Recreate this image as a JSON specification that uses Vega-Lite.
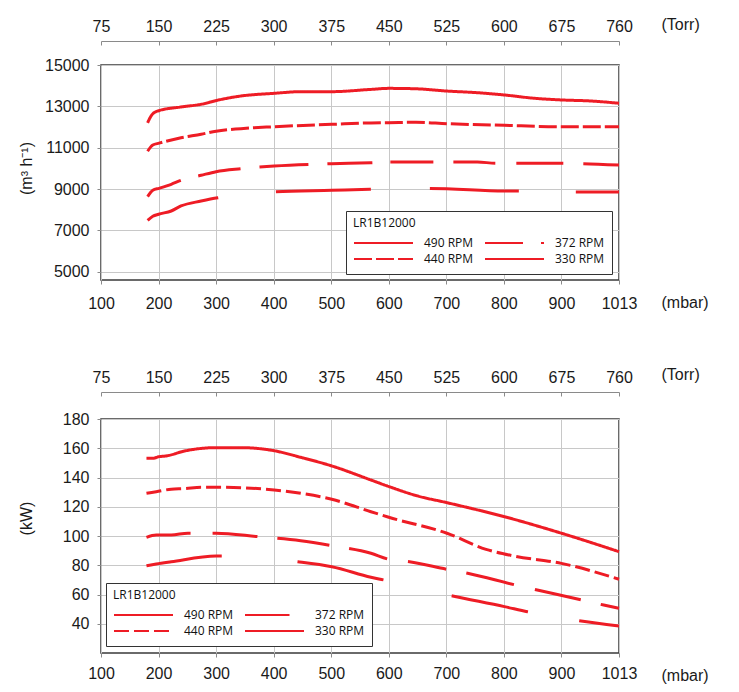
{
  "$schema": "https://vega.github.io/schema/vega-lite/v6.json",
  "padding": {"left": 17, "top": 15, "right": 0, "bottom": 0},
  "background": "white",
  "config": {
    "view": {"stroke": "#3a3a3a", "strokeWidth": 1.5},
    "axis": {
      "labelFont": "Liberation Sans", "labelFontSize": 16, "labelColor": "#1a1a1a",
      "titleFont": "Liberation Sans", "titleFontSize": 16, "titleFontWeight": "normal", "titleColor": "#1a1a1a",
      "gridColor": "#c8c8c8", "gridWidth": 1, "tickColor": "#8a8a8a", "domainColor": "#8a8a8a", "tickSize": 4,
      "labelFlush": false, "labelOverlap": false
    },
    "legend": {
      "titleFont": "Open Sans", "titleFontSize": 12, "titleFontWeight": "normal", "titleColor": "#111",
      "labelFont": "Open Sans", "labelFontSize": 12, "labelColor": "#111",
      "symbolType": "stroke", "symbolSize": 3481, "symbolStrokeWidth": 2, "symbolStrokeColor": "#ee1c25",
      "clipHeight": 16, "labelOffset": 10, "columnPadding": 10, "rowPadding": 0, "padding": 7, "titlePadding": 5,
      "strokeColor": "#333", "fillColor": "white", "cornerRadius": 0
    }
  },
  "datasets": {
    "top": [
      {"mbar": 181, "v": 12200, "s": "490 RPM"}, {"mbar": 185, "v": 12440, "s": "490 RPM"}, {"mbar": 189, "v": 12610, "s": "490 RPM"},
      {"mbar": 198, "v": 12770, "s": "490 RPM"}, {"mbar": 239, "v": 12970, "s": "490 RPM"}, {"mbar": 274, "v": 13100, "s": "490 RPM"},
      {"mbar": 303, "v": 13300, "s": "490 RPM"}, {"mbar": 343, "v": 13500, "s": "490 RPM"}, {"mbar": 401, "v": 13630, "s": "490 RPM"},
      {"mbar": 447, "v": 13710, "s": "490 RPM"}, {"mbar": 501, "v": 13710, "s": "490 RPM"}, {"mbar": 569, "v": 13820, "s": "490 RPM"},
      {"mbar": 600, "v": 13870, "s": "490 RPM"}, {"mbar": 647, "v": 13850, "s": "490 RPM"}, {"mbar": 701, "v": 13740, "s": "490 RPM"},
      {"mbar": 754, "v": 13660, "s": "490 RPM"}, {"mbar": 801, "v": 13550, "s": "490 RPM"}, {"mbar": 853, "v": 13390, "s": "490 RPM"},
      {"mbar": 900, "v": 13310, "s": "490 RPM"}, {"mbar": 957, "v": 13260, "s": "490 RPM"}, {"mbar": 1013, "v": 13150, "s": "490 RPM"},

      {"mbar": 181, "v": 10830, "s": "440 RPM"}, {"mbar": 190, "v": 11130, "s": "440 RPM"}, {"mbar": 201, "v": 11220, "s": "440 RPM"},
      {"mbar": 239, "v": 11480, "s": "440 RPM"}, {"mbar": 274, "v": 11650, "s": "440 RPM"}, {"mbar": 300, "v": 11800, "s": "440 RPM"},
      {"mbar": 343, "v": 11920, "s": "440 RPM"}, {"mbar": 401, "v": 12015, "s": "440 RPM"}, {"mbar": 501, "v": 12130, "s": "440 RPM"},
      {"mbar": 569, "v": 12200, "s": "440 RPM"}, {"mbar": 600, "v": 12210, "s": "440 RPM"}, {"mbar": 647, "v": 12230, "s": "440 RPM"},
      {"mbar": 701, "v": 12160, "s": "440 RPM"}, {"mbar": 801, "v": 12080, "s": "440 RPM"}, {"mbar": 900, "v": 12015, "s": "440 RPM"},
      {"mbar": 1013, "v": 12015, "s": "440 RPM"},

      {"mbar": 181, "v": 8630, "s": "372 RPM"}, {"mbar": 190, "v": 8940, "s": "372 RPM"}, {"mbar": 201, "v": 9035, "s": "372 RPM"},
      {"mbar": 222, "v": 9230, "s": "372 RPM"}, {"mbar": 239, "v": 9420, "s": "372 RPM"}, {"mbar": 274, "v": 9665, "s": "372 RPM"},
      {"mbar": 300, "v": 9840, "s": "372 RPM"}, {"mbar": 343, "v": 9985, "s": "372 RPM"}, {"mbar": 401, "v": 10115, "s": "372 RPM"},
      {"mbar": 501, "v": 10225, "s": "372 RPM"}, {"mbar": 569, "v": 10275, "s": "372 RPM"}, {"mbar": 604, "v": 10310, "s": "372 RPM"},
      {"mbar": 701, "v": 10310, "s": "372 RPM"}, {"mbar": 754, "v": 10310, "s": "372 RPM"}, {"mbar": 786, "v": 10245, "s": "372 RPM"},
      {"mbar": 900, "v": 10245, "s": "372 RPM"}, {"mbar": 1013, "v": 10160, "s": "372 RPM"},

      {"mbar": 181, "v": 7480, "s": "330 RPM"}, {"mbar": 190, "v": 7680, "s": "330 RPM"}, {"mbar": 200, "v": 7780, "s": "330 RPM"},
      {"mbar": 222, "v": 7937, "s": "330 RPM"}, {"mbar": 239, "v": 8180, "s": "330 RPM"}, {"mbar": 274, "v": 8420, "s": "330 RPM"},
      {"mbar": 303, "v": 8580, "s": "330 RPM"}, {"mbar": 350, "v": 8720, "s": "330 RPM"}, {"mbar": 402, "v": 8870, "s": "330 RPM"},
      {"mbar": 501, "v": 8940, "s": "330 RPM"}, {"mbar": 567, "v": 8987, "s": "330 RPM"}, {"mbar": 670, "v": 9030, "s": "330 RPM"},
      {"mbar": 801, "v": 8905, "s": "330 RPM"}, {"mbar": 825, "v": 8900, "s": "330 RPM"}, {"mbar": 925, "v": 8860, "s": "330 RPM"},
      {"mbar": 1013, "v": 8857, "s": "330 RPM"}
    ],
    "bottom": [
      {"mbar": 179, "v": 153.1, "s": "490 RPM"}, {"mbar": 190, "v": 153.1, "s": "490 RPM"}, {"mbar": 200, "v": 154.2, "s": "490 RPM"},
      {"mbar": 213, "v": 154.7, "s": "490 RPM"}, {"mbar": 245, "v": 158.1, "s": "490 RPM"}, {"mbar": 300, "v": 160.4, "s": "490 RPM"},
      {"mbar": 343, "v": 160.4, "s": "490 RPM"}, {"mbar": 401, "v": 158.3, "s": "490 RPM"}, {"mbar": 447, "v": 153.8, "s": "490 RPM"},
      {"mbar": 501, "v": 147.9, "s": "490 RPM"}, {"mbar": 569, "v": 138.3, "s": "490 RPM"}, {"mbar": 601, "v": 133.7, "s": "490 RPM"},
      {"mbar": 650, "v": 127.4, "s": "490 RPM"}, {"mbar": 701, "v": 122.8, "s": "490 RPM"}, {"mbar": 801, "v": 113.2, "s": "490 RPM"},
      {"mbar": 900, "v": 101.9, "s": "490 RPM"}, {"mbar": 1013, "v": 89.3, "s": "490 RPM"},

      {"mbar": 179, "v": 129.2, "s": "440 RPM"}, {"mbar": 196, "v": 130.3, "s": "440 RPM"}, {"mbar": 222, "v": 132.0, "s": "440 RPM"},
      {"mbar": 245, "v": 132.4, "s": "440 RPM"}, {"mbar": 274, "v": 133.3, "s": "440 RPM"}, {"mbar": 300, "v": 133.3, "s": "440 RPM"},
      {"mbar": 343, "v": 133.0, "s": "440 RPM"}, {"mbar": 401, "v": 131.5, "s": "440 RPM"}, {"mbar": 447, "v": 129.2, "s": "440 RPM"},
      {"mbar": 501, "v": 125.1, "s": "440 RPM"}, {"mbar": 569, "v": 116.6, "s": "440 RPM"}, {"mbar": 600, "v": 112.8, "s": "440 RPM"},
      {"mbar": 701, "v": 101.9, "s": "440 RPM"}, {"mbar": 769, "v": 90.9, "s": "440 RPM"}, {"mbar": 818, "v": 86.3, "s": "440 RPM"},
      {"mbar": 900, "v": 81.3, "s": "440 RPM"}, {"mbar": 1013, "v": 70.4, "s": "440 RPM"},

      {"mbar": 179, "v": 99.1, "s": "372 RPM"}, {"mbar": 196, "v": 100.7, "s": "372 RPM"}, {"mbar": 222, "v": 100.7, "s": "372 RPM"},
      {"mbar": 251, "v": 101.9, "s": "372 RPM"}, {"mbar": 300, "v": 101.9, "s": "372 RPM"}, {"mbar": 372, "v": 99.6, "s": "372 RPM"},
      {"mbar": 447, "v": 96.8, "s": "372 RPM"}, {"mbar": 501, "v": 93.4, "s": "372 RPM"}, {"mbar": 569, "v": 88.2, "s": "372 RPM"},
      {"mbar": 598, "v": 84.3, "s": "372 RPM"}, {"mbar": 636, "v": 82.4, "s": "372 RPM"}, {"mbar": 701, "v": 77.2, "s": "372 RPM"},
      {"mbar": 737, "v": 74.5, "s": "372 RPM"}, {"mbar": 820, "v": 66.5, "s": "372 RPM"}, {"mbar": 858, "v": 63.1, "s": "372 RPM"},
      {"mbar": 941, "v": 56.2, "s": "372 RPM"}, {"mbar": 983, "v": 52.8, "s": "372 RPM"}, {"mbar": 1013, "v": 50.6, "s": "372 RPM"},

      {"mbar": 179, "v": 79.7, "s": "330 RPM"}, {"mbar": 196, "v": 80.9, "s": "330 RPM"}, {"mbar": 222, "v": 82.4, "s": "330 RPM"},
      {"mbar": 300, "v": 86.3, "s": "330 RPM"}, {"mbar": 310, "v": 86.3, "s": "330 RPM"}, {"mbar": 442, "v": 82.4, "s": "330 RPM"},
      {"mbar": 501, "v": 79.0, "s": "330 RPM"}, {"mbar": 569, "v": 71.8, "s": "330 RPM"}, {"mbar": 592, "v": 69.9, "s": "330 RPM"},
      {"mbar": 711, "v": 59.0, "s": "330 RPM"}, {"mbar": 801, "v": 51.7, "s": "330 RPM"}, {"mbar": 841, "v": 48.2, "s": "330 RPM"},
      {"mbar": 934, "v": 42.1, "s": "330 RPM"}, {"mbar": 1013, "v": 38.5, "s": "330 RPM"}
    ]
  },
  "spacing": 53,
  "resolve": {
    "scale": {"x": "independent", "y": "independent", "strokeDash": "independent"},
    "legend": {"strokeDash": "independent"}
  },
  "vconcat": [
    {
      "width": 518,
      "height": 215,
      "data": {"name": "top"},
      "resolve": {"axis": {"x": "independent"}},
      "layer": [
        {
          "mark": {"type": "line", "strokeWidth": 3, "interpolate": "monotone", "color": "#ee1c25"},
          "encoding": {
            "x": {
              "field": "mbar", "type": "quantitative",
              "scale": {"domain": [100, 900, 1013], "range": [0, 460.44, 518], "nice": false, "zero": false},
              "axis": {
                "orient": "bottom", "values": [100, 200, 300, 400, 500, 600, 700, 800, 900, 1013], "format": "d",
                "grid": true, "domain": false, "ticks": true, "labelPadding": 11,
                "title": "(mbar)", "titleX": 560, "titleY": 22, "titleAlign": "left", "titleBaseline": "middle", "titleAngle": 0
              }
            },
            "y": {
              "field": "v", "type": "quantitative",
              "scale": {"domain": [4600, 15000], "nice": false, "zero": false},
              "axis": {
                "values": [5000, 7000, 9000, 11000, 13000, 15000], "format": "d", "grid": true, "domain": false, "labelPadding": 8,
                "title": "(m³ h⁻¹)", "titleX": -75, "titleY": 103, "titleBaseline": "middle", "titleAlign": "center", "titleAngle": -90
              }
            },
            "strokeDash": {
              "field": "s", "type": "nominal",
              "scale": {
                "domain": ["490 RPM", "440 RPM", "372 RPM", "330 RPM"],
                "range": [[1, 0], [18, 4], [38, 18, 43, 19, 49, 19, 45, 18, 43, 20, 42, 21, 47, 20, 60, 10], [75, 58, 95, 59, 89, 57, 100, 10]]
              },
              "legend": {"title": "LR1B12000", "orient": "none", "legendX": 245, "legendY": 146, "columns": 2}
            }
          }
        },
        {
          "mark": {"type": "point", "opacity": 0},
          "encoding": {
            "x": {
              "field": "mbar", "type": "quantitative",
              "axis": {
                "orient": "top", "offset": 24, "values": [100, 200, 300, 400, 500, 600, 700, 800, 900, 1013],
                "labelExpr": "datum.value == 1013 ? '760' : format(datum.value * 0.75, 'd')",
                "grid": false, "domain": true, "ticks": true, "tickSize": -4, "labelPadding": 11,
                "title": "(Torr)", "titleX": 560, "titleY": -17, "titleAlign": "left", "titleBaseline": "middle", "titleAngle": 0
              }
            }
          }
        }
      ]
    },
    {
      "width": 518,
      "height": 234,
      "data": {"name": "bottom"},
      "resolve": {"axis": {"x": "independent"}},
      "layer": [
        {
          "mark": {"type": "line", "strokeWidth": 3, "interpolate": "monotone", "color": "#ee1c25"},
          "encoding": {
            "x": {
              "field": "mbar", "type": "quantitative",
              "scale": {"domain": [100, 900, 1013], "range": [0, 460.44, 518], "nice": false, "zero": false},
              "axis": {
                "orient": "bottom", "values": [100, 200, 300, 400, 500, 600, 700, 800, 900, 1013], "format": "d",
                "grid": true, "domain": false, "ticks": true, "labelPadding": 8,
                "title": "(mbar)", "titleX": 560, "titleY": 22, "titleAlign": "left", "titleBaseline": "middle", "titleAngle": 0
              }
            },
            "y": {
              "field": "v", "type": "quantitative",
              "scale": {"domain": [20, 180], "nice": false, "zero": false},
              "axis": {
                "values": [40, 60, 80, 100, 120, 140, 160, 180], "grid": true, "domain": false, "labelPadding": 8,
                "title": "(kW)", "titleX": -75, "titleY": 99, "titleBaseline": "middle", "titleAlign": "center", "titleAngle": -90
              }
            },
            "strokeDash": {
              "field": "s", "type": "nominal",
              "scale": {
                "domain": ["490 RPM", "440 RPM", "372 RPM", "330 RPM"],
                "range": [[1, 0], [15, 5], [44.5, 22, 45, 20, 52.5, 20, 39.5, 21, 39, 20.5, 49, 21.5, 47, 20.5, 60, 10], [76, 76, 88, 70, 78, 52, 100, 10]]
              },
              "legend": {"title": "LR1B12000", "orient": "none", "legendX": 5, "legendY": 164, "columns": 2}
            }
          }
        },
        {
          "mark": {"type": "point", "opacity": 0},
          "encoding": {
            "x": {
              "field": "mbar", "type": "quantitative",
              "axis": {
                "orient": "top", "offset": 27, "values": [100, 200, 300, 400, 500, 600, 700, 800, 900, 1013],
                "labelExpr": "datum.value == 1013 ? '760' : format(datum.value * 0.75, 'd')",
                "grid": false, "domain": true, "ticks": true, "tickSize": -4, "labelPadding": 11,
                "title": "(Torr)", "titleX": 560, "titleY": -18, "titleAlign": "left", "titleBaseline": "middle", "titleAngle": 0
              }
            }
          }
        }
      ]
    }
  ]
}
